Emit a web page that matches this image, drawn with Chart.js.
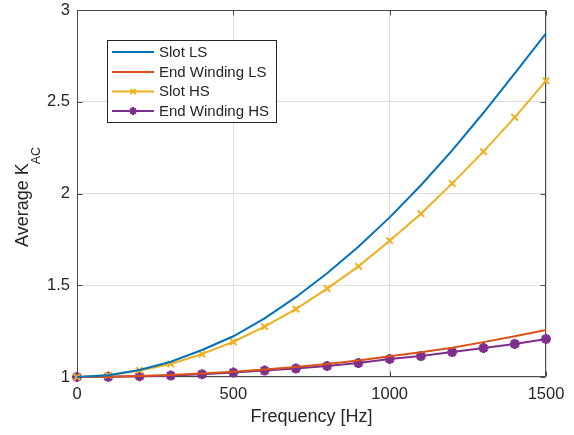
<!DOCTYPE html>
<html>
<head>
<meta charset="utf-8">
<script src="https://cdn.jsdelivr.net/npm/chart.js@4.4.0/dist/chart.umd.min.js"></script>
<style>
  html, body { margin: 0; padding: 0; background: #fff; }
  #wrap { width: 574px; height: 435px; }
</style>
</head>
<body>
<div id="wrap"><canvas id="kac" width="574" height="435"></canvas></div>
<script>
// Frequency sweep [Hz]
const freq = [0, 100, 200, 300, 400, 500, 600, 700, 800, 900, 1000, 1100, 1200, 1300, 1400, 1500];

// Average AC resistance factor per winding region
const slotLS = [1, 1.01, 1.038, 1.083, 1.147, 1.222, 1.32, 1.435, 1.565, 1.71, 1.87, 2.045, 2.235, 2.44, 2.655, 2.872];
const endLS  = [1, 1.001, 1.005, 1.011, 1.019, 1.029, 1.041, 1.055, 1.071, 1.09, 1.113, 1.135, 1.16, 1.19, 1.222, 1.256];
const slotHS = [1, 1.01, 1.036, 1.071, 1.125, 1.192, 1.274, 1.37, 1.482, 1.603, 1.743, 1.89, 2.055, 2.228, 2.415, 2.614];
const endHS  = [1, 1.001, 1.004, 1.008, 1.015, 1.024, 1.035, 1.046, 1.06, 1.076, 1.098, 1.114, 1.136, 1.158, 1.18, 1.207];

const xTicks = [0, 500, 1000, 1500];
const yTicks = [1, 1.5, 2, 2.5, 3];

const FONT = '"Liberation Sans", Arial, Helvetica, sans-serif';
const AXIS_COLOR = '#4a4a4a';
const TEXT_COLOR = '#262626';

function pts(ys) {
    return freq.map((f, i) => ({ x: f, y: ys[i] }));
}

const series = [
    { label: 'Slot LS', data: slotLS, color: '#0072BD', marker: false },
    { label: 'End Winding LS', data: endLS, color: '#D95319', marker: false },
    { label: 'Slot HS', data: slotHS, color: '#EDB120', marker: 'crossRot' },
    { label: 'End Winding HS', data: endHS, color: '#7E2F8E', marker: 'star' }
];

// box, inward tick marks and axis titles in the MATLAB look
const axesPlugin = {
    id: 'axesBox',
    beforeDatasetsDraw(chart) {
        const { ctx, chartArea: a, scales } = chart;
        ctx.save();
        ctx.strokeStyle = AXIS_COLOR;
        ctx.lineWidth = 1;
        ctx.beginPath();
        const L = Math.round(a.left) + 0.5, R = Math.round(a.right) - 0.5;
        const T = Math.round(a.top) + 0.5, B = Math.round(a.bottom) - 0.5;
        ctx.rect(L, T, R - L, B - T);
        const tl = 5;
        xTicks.forEach(v => {
            const x = Math.round(scales.x.getPixelForValue(v)) + 0.5;
            ctx.moveTo(x, B); ctx.lineTo(x, B - tl);
            ctx.moveTo(x, T); ctx.lineTo(x, T + tl);
        });
        yTicks.forEach(v => {
            const y = Math.round(scales.y.getPixelForValue(v)) + 0.5;
            ctx.moveTo(L, y); ctx.lineTo(L + tl, y);
            ctx.moveTo(R, y); ctx.lineTo(R - tl, y);
        });
        ctx.stroke();
        ctx.restore();
    },
    afterDraw(chart) {
        const { ctx, chartArea: a } = chart;
        ctx.save();
        ctx.fillStyle = TEXT_COLOR;

        // x axis title
        ctx.font = '18px ' + FONT;
        ctx.textAlign = 'center';
        ctx.textBaseline = 'alphabetic';
        ctx.fillText('Frequency [Hz]', (a.left + a.right) / 2, 422);

        // y axis title with subscript
        ctx.translate(28, 247);
        ctx.rotate(-Math.PI / 2);
        ctx.textAlign = 'left';
        ctx.font = '18px ' + FONT;
        ctx.fillText('Average K', 0, 0);
        const w = ctx.measureText('Average K').width;
        ctx.font = '12.5px ' + FONT;
        ctx.fillText('AC', w - 1, 12);
        ctx.restore();

        // legend box
        ctx.save();
        const bx = 107.5, by = 40.5, bw = 169, bh = 82;
        ctx.fillStyle = '#fff';
        ctx.fillRect(bx, by, bw, bh);
        ctx.strokeStyle = TEXT_COLOR;
        ctx.lineWidth = 1;
        ctx.strokeRect(bx, by, bw, bh);
        const rows = [52, 72, 91.5, 111];
        ctx.font = '15px ' + FONT;
        ctx.textBaseline = 'middle';
        ctx.textAlign = 'left';
        series.forEach((s, i) => {
            const y = rows[i];
            ctx.strokeStyle = s.color;
            ctx.lineWidth = 2;
            ctx.beginPath();
            ctx.moveTo(112, y); ctx.lineTo(154, y);
            ctx.stroke();
            if (s.marker) {
                Chart.helpers.drawPoint(ctx, {
                    pointStyle: s.marker,
                    radius: s.marker === 'star' ? 4 : 3.5,
                    borderWidth: s.marker === 'star' ? 2.5 : 2
                }, 133, y);
            }
            ctx.fillStyle = TEXT_COLOR;
            ctx.fillText(s.label, 159, y + 0.5);
        });
        ctx.restore();
    }
};

const ctx = document.getElementById('kac').getContext('2d');
const chart = new Chart(ctx, {
    type: 'line',
    data: {
        datasets: series.map(s => ({
            label: s.label,
            data: pts(s.data),
            borderColor: s.color,
            backgroundColor: s.color,
            borderWidth: 2,
            pointStyle: s.marker || 'circle',
            pointRadius: s.marker ? (s.marker === 'star' ? 5 : 4.5) : 0,
            pointBorderWidth: s.marker === 'star' ? 3 : 2,
            pointBorderColor: s.color,
            pointBackgroundColor: s.color,
            tension: 0,
            clip: false
        }))
    },
    options: {
        responsive: false,
        animation: false,
        events: [],
        layout: { padding: { top: 10, right: 28, left: 0, bottom: 0 } },
        plugins: {
            legend: { display: false },
            tooltip: { enabled: false }
        },
        scales: {
            x: {
                type: 'linear',
                min: 0,
                max: 1500,
                afterFit: s => { s.height = 58; s.paddingLeft = 0; s.paddingRight = 0; },
                afterBuildTicks: s => { s.ticks = xTicks.map(v => ({ value: v })); },
                grid: { color: '#dedede', drawTicks: false },
                border: { display: false },
                ticks: {
                    padding: 8,
                    color: TEXT_COLOR,
                    font: { family: FONT, size: 16.5 },
                    maxRotation: 0,
                    callback: v => String(v)
                }
            },
            y: {
                type: 'linear',
                min: 1,
                max: 3,
                afterFit: s => { s.width = 77; s.paddingTop = 0; s.paddingBottom = 0; },
                afterBuildTicks: s => { s.ticks = yTicks.map(v => ({ value: v })); },
                grid: { color: '#dedede', drawTicks: false },
                border: { display: false },
                ticks: {
                    padding: 7,
                    color: TEXT_COLOR,
                    font: { family: FONT, size: 16.5 },
                    callback: v => String(v)
                }
            }
        }
    },
    plugins: [axesPlugin]
});
</script>
</body>
</html>
